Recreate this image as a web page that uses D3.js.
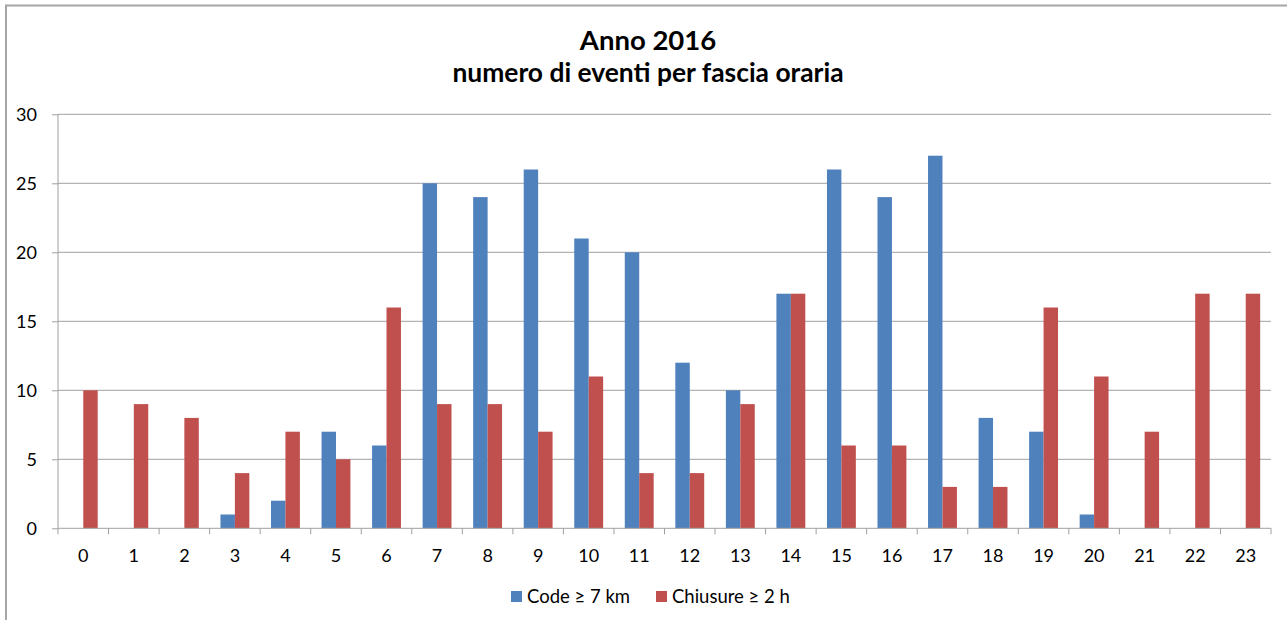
<!DOCTYPE html>
<html><head><meta charset="utf-8">
<script src="https://cdn.jsdelivr.net/npm/d3@7"></script>
<style>body{margin:0;background:#fff}svg{display:block}text{font-family:Lato,"Open Sans",sans-serif}</style>
</head><body><svg id="c" width="1287" height="620"></svg>
<script>
const categories = ["0","1","2","3","4","5","6","7","8","9","10","11","12","13","14","15","16","17","18","19","20","21","22","23"];
const codeValues = [0,0,0,1,2,7,6,25,24,26,21,20,12,10,17,26,24,27,8,7,1,0,0,0];
const chiusureValues = [10,9,8,4,7,5,16,9,9,7,11,4,4,9,17,6,6,3,3,16,11,7,17,17];
const seriesNames = ["Code \u2265 7 km","Chiusure \u2265 2 h"];
const yTicks = [0,5,10,15,20,25,30];
const colors = ["#4F81BD","#C0504D"];

const svg = d3.select("#c");
const L = 58, R = 1271, T = 114.3, B = 528.3;
const FF = "Lato, 'Open Sans', sans-serif";
// outer frame
svg.append("path").attr("d","M6,620 V5.5 H1287").attr("fill","none").attr("stroke","#a6a6a6").attr("stroke-width",2);

const x = d3.scaleBand().domain(categories).range([L,R]);
const y = d3.scaleLinear().domain([0,30]).range([B,T]);
const bw = x.bandwidth()/3.5;

// gridlines
svg.append("g").selectAll("line").data(yTicks.filter(d=>d>0)).join("line")
  .attr("x1",L).attr("x2",R).attr("y1",d=>y(d)).attr("y2",d=>y(d))
  .attr("stroke","#a0a0a0").attr("stroke-width",1);

const series = [codeValues, chiusureValues];
series.forEach((vals,si)=>{
  svg.append("g").selectAll("rect").data(vals).join("rect")
    .attr("x",(d,i)=>x(categories[i]) + bw*0.75 + si*bw)
    .attr("width",bw)
    .attr("y",d=>y(d)).attr("height",d=>B-y(d))
    .attr("fill",colors[si]);
});

// axes
const yAxis = d3.axisLeft(y).tickValues(yTicks).tickSize(6).tickPadding(15);
const gy = svg.append("g").attr("transform",`translate(${L},0)`).call(yAxis);
gy.select(".domain").remove();
gy.append("line").attr("x1",0).attr("x2",0).attr("y1",T).attr("y2",B).attr("stroke","#a0a0a0");
gy.selectAll(".tick line").attr("stroke","#a0a0a0");
gy.selectAll("text").attr("font-size",18).attr("fill","#000").attr("font-family",FF).attr("dy","0.36em");

const xAxis = d3.axisBottom(x).tickSize(0).tickPadding(21);
const gx = svg.append("g").attr("transform",`translate(0,${B})`).call(xAxis);
gx.select(".domain").remove();
gx.selectAll(".tick line").remove();
gx.append("line").attr("x1",L).attr("x2",R).attr("y1",0).attr("y2",0).attr("stroke","#a0a0a0");
const tickPos = categories.map(c=>x(c)).concat([R]);
gx.selectAll("line.tk").data(tickPos).join("line").attr("class","tk")
  .attr("x1",d=>d).attr("x2",d=>d).attr("y1",0).attr("y2",6).attr("stroke","#a0a0a0");
gx.selectAll("text").attr("font-size",18).attr("fill","#000").attr("font-family",FF);

// title
svg.append("text").attr("x",648).attr("y",50).attr("text-anchor","middle")
  .attr("font-size",27.5).attr("font-weight","bold").text("Anno 2016");
svg.append("text").attr("x",648).attr("y",82).attr("text-anchor","middle")
  .attr("font-size",26.4).attr("font-weight","bold").text("numero di eventi per fascia oraria");

// legend
const lg = svg.append("g");
const lx = [511, 656];
seriesNames.forEach((n,i)=>{
  lg.append("rect").attr("x",lx[i]).attr("y",591).attr("width",11).attr("height",11).attr("fill",colors[i]);
  lg.append("text").attr("x",lx[i]+16).attr("y",603).attr("font-size",18.5).text(n);
});
</script></body></html>
